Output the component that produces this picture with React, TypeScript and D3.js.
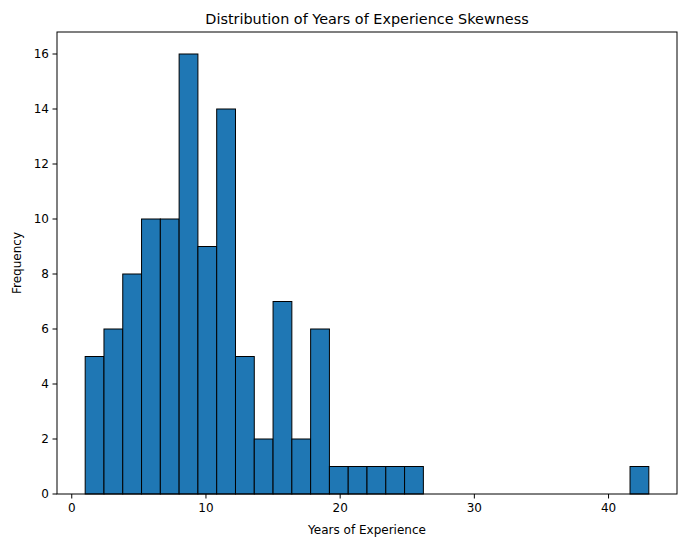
import React from "react";
import * as d3 from "d3";

const counts = [5,6,8,10,10,16,9,14,5,2,7,2,6,1,1,1,1,1,0,0,0,0,0,0,0,0,0,0,0,1];
const binStart = 1;
const binEnd = 43;
const xTicks = [0,10,20,30,40];
const yTicks = [0,2,4,6,8,10,12,14,16];

export default function App() {
  const W = 687, H = 547;
  const L = 57, R = 677, T = 32, B = 494;
  const n = counts.length;
  const w = (binEnd - binStart) / n;
  const pad = (binEnd - binStart) * 0.05;
  const x = d3.scaleLinear().domain([binStart - pad, binEnd + pad]).range([L, R]);
  const maxC = d3.max(counts)!;
  const y = d3.scaleLinear().domain([0, maxC * 1.05]).range([B, T]);
  const font = "DejaVu Sans, sans-serif";
  return (
    <svg width={W} height={H} style={{ position: "absolute", left: 0, top: 0, background: "#fff" }} fontFamily={font}>
      {counts.map((c, i) => c > 0 ? (
        <rect key={i} x={x(binStart + i * w)} y={y(c)} width={x(binStart + (i + 1) * w) - x(binStart + i * w)} height={y(0) - y(c)}
          fill="#1f77b4" stroke="#000" strokeWidth={1} />
      ) : null)}
      <rect x={L} y={T} width={R - L} height={B - T} fill="none" stroke="#000" strokeWidth={1} />
      {xTicks.map(t => (
        <g key={t}>
          <line x1={x(t)} x2={x(t)} y1={B} y2={B + 4.5} stroke="#000" />
          <text x={x(t)} y={B + 18} textAnchor="middle" fontSize={12}>{t}</text>
        </g>
      ))}
      {yTicks.map(t => (
        <g key={t}>
          <line x1={L - 4.5} x2={L} y1={y(t)} y2={y(t)} stroke="#000" />
          <text x={L - 8} y={y(t) + 4} textAnchor="end" fontSize={12}>{t}</text>
        </g>
      ))}
      <text x={(L + R) / 2} y={534} textAnchor="middle" fontSize={12}>Years of Experience</text>
      <text transform={`translate(21,${(T + B) / 2}) rotate(-90)`} textAnchor="middle" fontSize={12}>Frequency</text>
      <text x={(L + R) / 2} y={24} textAnchor="middle" fontSize={14.4}>Distribution of Years of Experience Skewness</text>
    </svg>
  );
}
